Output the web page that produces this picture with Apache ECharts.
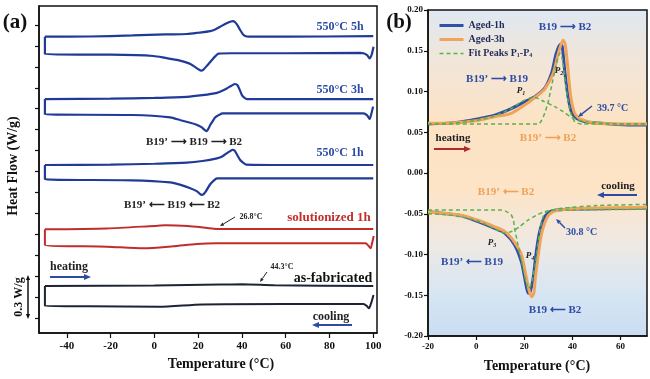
<!DOCTYPE html>
<html><head><meta charset="utf-8">
<script src="https://cdn.jsdelivr.net/npm/echarts@6/dist/echarts.min.js"></script>
<style>html,body{margin:0;padding:0;background:#fff}#c{width:650px;height:379px}</style>
</head><body><div id="c"></div>
<script>
// ---------- Panel (a): DSC loops, offset heat flow (1 tick = 0.15 W/g) ----------
const aTicksX = [-40, -20, 0, 20, 40, 60, 80, 100];
const aTicksY = [0,1,2,3,4,5,6,7,8,9,10,11,12,13,14];
const heat5h = [[-50,13.44],[-30,13.45],[-10,13.5],[5,13.55],[14.8,13.57],[20,13.63],[25.5,13.71],[28,13.8],[30.1,13.92],[33,14.08],[35,14.17],[35.9,14.19],[36.8,14.14],[38,13.98],[39.2,13.76],[40.5,13.55],[41.5,13.47],[43,13.44],[60,13.44],[100,13.47]];
const cool5h = [[100.1,12.96],[99.3,12.6],[98.3,12.41],[97.3,12.55],[95.5,12.65],[94,12.67],[60,12.65],[35,12.65],[29.3,12.63],[27.8,12.5],[26.3,12.33],[24,12.05],[22.3,11.86],[21.4,11.82],[20.2,11.88],[18.5,12.0],[16.4,12.14],[13,12.26],[10.3,12.33],[5,12.43],[-0.4,12.52],[-20,12.58],[-50,12.6],[-50,13.44]];
const heat3h = [[-50,10.46],[-20,10.48],[0,10.52],[14.8,10.57],[22,10.65],[28.6,10.76],[31,10.86],[33.1,10.97],[35.2,11.1],[36.9,11.18],[38,11.12],[39,10.9],[40,10.65],[41.2,10.52],[42.3,10.46],[60,10.46],[100,10.46]];
const cool3h = [[99.9,10.1],[99.1,9.75],[98.3,9.51],[97.2,9.68],[95.5,9.78],[60,9.78],[31,9.78],[30.1,9.73],[28.8,9.66],[27.8,9.59],[26.5,9.38],[25.5,9.22],[24.6,9.03],[23.8,8.93],[22.8,9.0],[21.5,9.12],[19,9.25],[16.4,9.33],[12,9.45],[7.2,9.59],[-10,9.7],[-50,9.73],[-50,10.46]];
const heat1h = [[-50,7.31],[-20,7.33],[0,7.37],[14.8,7.42],[22,7.5],[28.6,7.63],[31,7.72],[33.5,7.9],[35,8.0],[35.7,8.04],[36.6,8.0],[37.8,7.8],[39.2,7.55],[40.8,7.4],[42,7.33],[60,7.31],[100,7.31]];
const cool1h = [[100,6.67],[60,6.67],[31,6.67],[28.6,6.67],[27,6.55],[25.5,6.39],[23.5,6.05],[22.5,5.92],[21.7,5.88],[20.8,5.93],[19.5,6.05],[16.4,6.2],[12,6.36],[7.2,6.48],[-10,6.58],[-50,6.63],[-50,7.31]];
const heatSol = [[-50,4.24],[-21.7,4.28],[0,4.4],[5,4.43],[10,4.42],[19.4,4.36],[24,4.3],[28.6,4.25],[60,4.25],[100,4.25]];
const coolSol = [[100.2,3.92],[99.4,3.55],[98.8,3.33],[97.8,3.45],[96.5,3.57],[94,3.57],[28.6,3.57],[19.4,3.54],[8.7,3.43],[-5,3.33],[-21.7,3.41],[-50,3.49],[-50,4.24]];
const heatFab = [[-50,1.53],[0,1.55],[30,1.6],[40,1.61],[55,1.56],[100,1.53]];
const coolFab = [[100.1,1.1],[99,0.7],[98,0.46],[97,0.58],[95.5,0.67],[60,0.67],[22,0.65],[2,0.54],[-30,0.56],[-50,0.57],[-50,1.53]];

// ---------- Panel (b): heat flow W/g ----------
const bTicksX = [-20, 0, 20, 40, 60];
const b1hHeat = [[-20,0.06],[-10,0.0615],[-6,0.063],[0,0.066],[7.7,0.071],[14.6,0.079],[21.6,0.0896],[24.4,0.0936],[28.5,0.104],[31.3,0.122],[33.3,0.147],[35,0.158],[35.8,0.155],[36.8,0.126],[38.2,0.0936],[39.6,0.075],[41.7,0.067],[45,0.063],[49.3,0.0617],[63,0.059],[71,0.059]];
const b3hHeat = [[-20,0.061],[-10,0.0615],[0,0.064],[7.7,0.069],[14.6,0.0733],[21.6,0.0863],[25.7,0.0957],[28.5,0.103],[32,0.122],[34,0.145],[36.1,0.163],[37,0.158],[37.9,0.135],[39.3,0.094],[41,0.073],[43.4,0.066],[50,0.061],[71,0.06]];
const b1hCool = [[-20,-0.0475],[-6.1,-0.0524],[0.8,-0.0597],[7.7,-0.0679],[12,-0.074],[16,-0.0883],[18.8,-0.109],[20.2,-0.129],[21.6,-0.1476],[22.5,-0.145],[23.7,-0.129],[25,-0.0966],[26.4,-0.072],[28.5,-0.0536],[31.3,-0.0466],[42.4,-0.0442],[63,-0.0433],[71,-0.043]];
const b3hCool = [[-20,-0.048],[-6,-0.052],[0.8,-0.058],[7.7,-0.066],[12,-0.072],[16,-0.085],[18.8,-0.1],[20.9,-0.129],[22.3,-0.147],[23.2,-0.1517],[24,-0.147],[24.6,-0.129],[26,-0.0966],[27.4,-0.072],[29.9,-0.0524],[32.7,-0.0466],[42,-0.0435],[71,-0.042]];
const fitP1 = [[-20,0.06],[-10,0.0612],[0,0.0645],[7.7,0.07],[14.6,0.079],[18.8,0.0875],[22,0.0915],[24.4,0.0925],[28,0.088],[32.7,0.0814],[36,0.0755],[39.6,0.0683],[42.5,0.065],[45.5,0.063],[55,0.0605],[71,0.06]];
const fitP2 = [[-20,0.06],[25.7,0.06],[27,0.0635],[28.5,0.0733],[30,0.088],[31.3,0.106],[33.3,0.133],[34.8,0.147],[35.8,0.14],[36.8,0.118],[38,0.092],[39.5,0.072],[41,0.063],[44,0.06],[71,0.06]];
const fitP3 = [[-20,-0.05],[-10,-0.052],[0,-0.058],[6,-0.066],[10,-0.072],[12,-0.0735],[15,-0.0715],[18,-0.066],[21.6,-0.0577],[25,-0.052],[28.5,-0.0475],[35.4,-0.0433],[50,-0.04],[71,-0.0385]];
const fitP4 = [[-20,-0.0454],[10,-0.0454],[12,-0.0465],[13.5,-0.049],[14.6,-0.0515],[15.5,-0.058],[16,-0.068],[17.4,-0.0883],[19,-0.11],[20.5,-0.13],[21.8,-0.1415],[22.8,-0.137],[23.5,-0.128],[24.4,-0.115],[25.2,-0.098],[26.4,-0.072],[28,-0.052],[30,-0.0465],[35,-0.0455],[71,-0.0445]];

const FONT = '"Liberation Serif", "Times New Roman", serif';
const BLUE_A = '#1f3a98', RED_A = '#bf2e2a', DARK_A = '#1e2436';
const BLUE_T = '#2c4ba6', ORANGE_T = '#eea159';
const BLUE_B = '#2f4fa8', ORANGE_B = '#f2a35a', GREEN_B = '#58b24a';

function ser(name, data, color, width, idx, extra) {
  return Object.assign({type:'line', name, data, xAxisIndex:idx, yAxisIndex:idx, symbol:'none', showSymbol:false,
    smooth:0.25, lineStyle:{color, width}, itemStyle:{color}, silent:true, animation:false}, extra || {});
}
function txt(x, y, text, size, color, align, rot, style) {
  return {type:'text', x, y, rotation: rot || 0, z:100,
    style:{text, font:(style||'bold') + ' ' + size + 'px ' + FONT, fill:color, textAlign:align || 'center',
      textVerticalAlign:'middle', verticalAlign:'middle'}};
}
function pLabel(x, y, sub) {
  return {type:'text', x, y, z:100, style:{text:'{p|P}{s|' + sub + '}', textAlign:'center', verticalAlign:'middle', textVerticalAlign:'middle',
    rich:{p:{font:'italic bold 9px ' + FONT, fill:'#222', color:'#222'}, s:{font:'italic bold 6px ' + FONT, fill:'#222', color:'#222', padding:[4,0,0,0]}}}};
}
function arrow(x1, y1, x2, y2, color, w, h, both) {
  const out = [];
  const ang = Math.atan2(y2 - y1, x2 - x1);
  const head = (tx, ty, a) => {
    const bx = tx - h * Math.cos(a), by = ty - h * Math.sin(a);
    const px = -Math.sin(a) * h * 0.42, py = Math.cos(a) * h * 0.42;
    out.push({type:'polygon', z:100, shape:{points:[[tx,ty],[bx+px,by+py],[bx-px,by-py]]}, style:{fill:color}});
    return [bx, by];
  };
  const e = head(x2, y2, ang);
  let s = [x1, y1];
  if (both) s = head(x1, y1, ang + Math.PI);
  out.push({type:'line', z:100, shape:{x1:s[0], y1:s[1], x2:e[0], y2:e[1]}, style:{stroke:color, lineWidth:w}});
  return out;
}

const chart = echarts.init(document.getElementById('c'), null, {renderer:'canvas'});
const axLab = (size) => ({fontFamily:FONT, fontWeight:'bold', fontSize:size, color:'#111'});

const option = {
  animation:false,
  backgroundColor:'#fff',
  grid:[
    {left:39, top:6, width:338, height:327, show:true, borderColor:'#111', borderWidth:1.5, backgroundColor:'transparent'},
    {left:428, top:10, width:219, height:326, show:true, borderColor:'#111', borderWidth:1.5,
      backgroundColor:{type:'linear', x:0, y:0, x2:0, y2:1, colorStops:[
        {offset:0, color:'#dfe8f2'},{offset:0.15, color:'#f1e6da'},{offset:0.35, color:'#fde3c4'},
        {offset:0.55, color:'#fde4c7'},{offset:0.72, color:'#eee9e4'},{offset:0.86, color:'#d8e6f3'},{offset:1, color:'#c9ddf2'}]}}
  ],
  xAxis:[
    {type:'value', gridIndex:0, min:-52.7, max:101.7, splitLine:{show:false},
      axisLine:{onZero:false, lineStyle:{color:'#111', width:1.5}},
      axisTick:{customValues:aTicksX, length:5, lineStyle:{color:'#111', width:1.2}},
      axisLabel:Object.assign({customValues:aTicksX, margin:8}, axLab(11))},
    {type:'value', gridIndex:1, min:-20, max:71, splitLine:{show:false},
      axisLine:{onZero:false, lineStyle:{color:'#111', width:1.5}},
      axisTick:{customValues:bTicksX, length:4, lineStyle:{color:'#111', width:1.2}},
      axisLabel:Object.assign({customValues:bTicksX, margin:6}, axLab(9))}
  ],
  yAxis:[
    {type:'value', gridIndex:0, min:-0.717, max:14.908, splitLine:{show:false},
      axisLine:{show:true, onZero:false, lineStyle:{color:'#111', width:1.5}},
      axisTick:{show:true, customValues:aTicksY, length:4, lineStyle:{color:'#111', width:1.2}},
      axisLabel:{show:false}},
    {type:'value', gridIndex:1, min:-0.2, max:0.2, interval:0.05, splitLine:{show:false},
      axisLine:{show:true, onZero:false, lineStyle:{color:'#111', width:1.5}},
      axisTick:{show:true, length:4, lineStyle:{color:'#111', width:1.2}},
      axisLabel:Object.assign({margin:5, formatter:(v)=>v.toFixed(2)}, axLab(9))}
  ],
  legend:{
    data:[{name:'Aged-1h', lineStyle:{width:3}}, {name:'Aged-3h', lineStyle:{width:3}}, {name:'Fit Peaks P1-P4', lineStyle:{width:1.5}}],
    orient:'vertical', left:433, top:15,
    itemWidth:24, itemHeight:8, itemGap:3,
    itemStyle:{opacity:0},
    formatter:(n)=> n === 'Fit Peaks P1-P4' ? 'Fit Peaks P{s|1}-P{s|4}' : n,
    textStyle:{fontFamily:FONT, fontWeight:'bold', fontSize:10, color:'#1f2a55', lineHeight:11,
      rich:{s:{fontFamily:FONT, fontWeight:'bold', fontSize:6, color:'#1f2a55', padding:[4,0,0,0]}}}
  },
  series:[
    ser('h5', heat5h, BLUE_A, 2.2, 0), ser('c5', cool5h, BLUE_A, 2.2, 0),
    ser('h3', heat3h, BLUE_A, 2.2, 0), ser('c3', cool3h, BLUE_A, 2.2, 0),
    ser('h1', heat1h, BLUE_A, 2.2, 0), ser('c1', cool1h, BLUE_A, 2.2, 0),
    ser('hs', heatSol, RED_A, 2.0, 0), ser('cs', coolSol, RED_A, 2.0, 0),
    ser('hf', heatFab, DARK_A, 2.0, 0), ser('cf', coolFab, DARK_A, 2.0, 0),
    ser('Aged-1h', b1hHeat, BLUE_B, 3, 1, {z:3}), ser('Aged-1h', b1hCool, BLUE_B, 3, 1, {z:3}),
    ser('Aged-3h', b3hHeat, ORANGE_B, 3, 1, {z:4}), ser('Aged-3h', b3hCool, ORANGE_B, 3, 1, {z:4}),
    ser('Fit Peaks P1-P4', fitP1, GREEN_B, 1.5, 1, {z:5, lineStyle:{color:GREEN_B, width:1.5, type:[4,3]}}),
    ser('Fit Peaks P1-P4', fitP2, GREEN_B, 1.5, 1, {z:5, lineStyle:{color:GREEN_B, width:1.5, type:[4,3]}}),
    ser('Fit Peaks P1-P4', fitP3, GREEN_B, 1.5, 1, {z:5, lineStyle:{color:GREEN_B, width:1.5, type:[4,3]}}),
    ser('Fit Peaks P1-P4', fitP4, GREEN_B, 1.5, 1, {z:5, lineStyle:{color:GREEN_B, width:1.5, type:[4,3]}})
  ],
  graphic:[].concat(
    [txt(15, 23, '(a)', 21, '#111'),
     txt(340, 27, '550°C 5h', 12, BLUE_T), txt(340, 90, '550°C 3h', 12, BLUE_T), txt(340, 153, '550°C 1h', 12, BLUE_T),
     txt(194, 142, 'B19\u2019 \u27F6 B19 \u27F6 B2', 11, '#222'),
     txt(172, 205, 'B19\u2019 \u27F5 B19 \u27F5 B2', 11, '#222'),
     txt(251, 217, '26.8°C', 8, '#222'),
     txt(329, 218, 'solutionized 1h', 13, RED_A),
     txt(69, 267, 'heating', 12, '#222'),
     txt(282, 267, '44.3°C', 8, '#222'),
     txt(333, 278, 'as-fabricated', 14, '#111'),
     txt(331, 317, 'cooling', 12, '#222'),
     txt(19, 297, '0.3 W/g', 12, '#111', 'center', Math.PI/2),
     txt(13, 166, 'Heat Flow (W/g)', 14, '#111', 'center', Math.PI/2),
     txt(221, 364, 'Temperature (°C)', 14, '#111'),
     txt(399, 23, '(b)', 21, '#111'),
     txt(565, 27, 'B19 \u27F6 B2', 11, BLUE_T),
     txt(497, 79, 'B19\u2019 \u27F6 B19', 11, BLUE_T),
     pLabel(521, 91, '1'), pLabel(559, 71, '2'),
     txt(597, 108, '39.7 °C', 10, BLUE_T, 'left'),
     txt(453, 138, 'heating', 11, '#222'),
     txt(548, 138, 'B19\u2019 \u27F6 B2', 11, ORANGE_T),
     txt(506, 192, 'B19\u2019 \u27F5 B2', 11, ORANGE_T),
     txt(618, 186, 'cooling', 11, '#222'),
     txt(566, 232, '30.8 °C', 10, BLUE_T, 'left'),
     pLabel(492, 243, '3'), pLabel(530, 256, '4'),
     txt(472, 262, 'B19\u2019 \u27F5 B19', 11, BLUE_T),
     txt(555, 310, 'B19 \u27F5 B2', 11, BLUE_T),
     txt(537, 366, 'Temperature (°C)', 14, '#111')],
    arrow(50, 277, 91, 277, BLUE_T, 2, 7),
    arrow(352, 325, 312, 325, BLUE_T, 2, 7),
    arrow(235, 217, 220, 226, '#222', 1, 4),
    arrow(267, 272, 260, 282, '#222', 1, 4),
    arrow(28, 275, 28, 319, '#111', 1.5, 5, true),
    arrow(434, 149, 471, 149, '#b02a2a', 2, 7),
    arrow(637, 195, 597, 195, BLUE_T, 2, 7),
    arrow(592, 106, 578, 117, BLUE_T, 1.5, 5),
    arrow(565, 228, 556, 219, BLUE_T, 1.5, 5)
  )
};
chart.setOption(option);
</script></body></html>
